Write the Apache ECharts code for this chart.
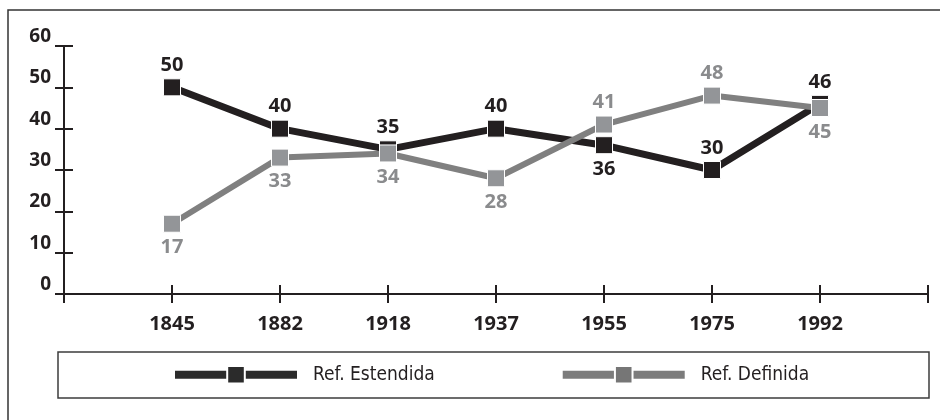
<!DOCTYPE html>
<html>
<head>
<meta charset="utf-8">
<script src="https://cdn.jsdelivr.net/npm/echarts@6/dist/echarts.min.js"></script>
<style>
  html, body { margin: 0; padding: 0; background: #fff; }
  #chart { width: 940px; height: 420px; }
</style>
</head>
<body>
<div id="chart"></div>
<script>
// Survey years and the two reference series
const years = ['1845', '1882', '1918', '1937', '1955', '1975', '1992'];
const refEstendida = [50, 40, 35, 40, 36, 30, 46];
const refDefinida = [17, 33, 34, 28, 41, 48, 45];
const yTicks = [0, 10, 20, 30, 40, 50, 60];

// Label side for each point: 'top' or 'bottom'
const posEstendida = ['top', 'top', 'top', 'top', 'bottom', 'top', 'top'];
const posDefinida = ['bottom', 'bottom', 'bottom', 'bottom', 'top', 'top', 'bottom'];

const INK = '#231f20';
const GREY_LINE = '#808080';
const GREY_MARK = '#939598';
const GREY_TEXT = '#8a8b8d';
const NUM_FONT = '"Open Sans", "DejaVu Sans", sans-serif';

// One empty slot on each side keeps the years off the axis ends
const axisCats = [''].concat(years, ['']);

function padded(values, positions, color) {
  const out = [null];
  values.forEach((v, i) => {
    out.push({
      value: v,
      label: {
        position: positions[i],
        color: color,
        distance: positions[i] === 'top' ? 3 : 5
      }
    });
  });
  out.push(null);
  return out;
}

const chart = echarts.init(document.getElementById('chart'), null, { renderer: 'canvas' });

const baseX = {
  type: 'category',
  data: axisCats,
  boundaryGap: false,
  position: 'bottom',
  axisLine: { show: true, lineStyle: { color: INK, width: 2 } },
  splitLine: { show: false }
};
const baseY = {
  type: 'value',
  min: yTicks[0],
  max: yTicks[yTicks.length - 1],
  interval: 10,
  position: 'left',
  axisLine: { show: true, lineStyle: { color: INK, width: 2 } },
  splitLine: { show: false }
};

chart.setOption({
  animation: false,
  backgroundColor: '#fff',
  grid: { left: 64, right: 12, top: 46, bottom: 126, containLabel: false },
  xAxis: [
    Object.assign({}, baseX, {
      axisTick: { show: true, inside: false, length: 9, interval: 0, lineStyle: { color: INK, width: 2 } },
      axisLabel: {
        interval: 0, margin: 20, color: INK,
        fontFamily: NUM_FONT, fontWeight: 'bold', fontSize: 20
      }
    }),
    Object.assign({}, baseX, {
      axisLine: { show: false },
      axisTick: { show: true, inside: true, length: 9, interval: 0, lineStyle: { color: INK, width: 2 } },
      axisLabel: { show: false }
    })
  ],
  yAxis: [
    Object.assign({}, baseY, {
      axisTick: { show: true, inside: false, length: 9, lineStyle: { color: INK, width: 2 } },
      axisLabel: {
        margin: 13, color: INK, verticalAlign: 'bottom', padding: [0, 0, 0, 0],
        fontFamily: NUM_FONT, fontWeight: 'bold', fontSize: 19
      }
    }),
    Object.assign({}, baseY, {
      axisLine: { show: false },
      axisTick: { show: true, inside: true, length: 9, lineStyle: { color: INK, width: 2 } },
      axisLabel: { show: false }
    })
  ],
  legend: {
    left: 171,
    top: 365,
    padding: 0,
    itemWidth: 122,
    itemHeight: 22,
    itemGap: 124,
    textStyle: {
      fontFamily: '"DejaVu Sans Condensed", "Liberation Sans Narrow", sans-serif',
      fontSize: 19,
      color: INK,
      padding: [0, 0, 0, 11]
    },
    data: [
      { name: 'Ref. Estendida', itemStyle: { color: '#2b2b2b' }, lineStyle: { color: '#2b2b2b', width: 8 } },
      { name: 'Ref. Definida', itemStyle: { color: '#767676' }, lineStyle: { color: '#7c7c7c', width: 8 } }
    ]
  },
  graphic: [
    {
      type: 'rect',
      silent: true,
      shape: { x: 8, y: 10, width: 960, height: 440 },
      style: { fill: 'none', stroke: '#333', lineWidth: 1.5 }
    },
    {
      type: 'rect',
      silent: true,
      shape: { x: 58, y: 352, width: 871, height: 46 },
      style: { fill: 'none', stroke: '#3c3c3c', lineWidth: 1.5 }
    }
  ],
  series: [
    {
      name: 'Ref. Estendida',
      type: 'line',
      xAxisIndex: 0,
      yAxisIndex: 0,
      data: padded(refEstendida, posEstendida, INK),
      symbol: 'rect',
      symbolSize: 17,
      lineStyle: { color: INK, width: 7 },
      itemStyle: { color: INK, borderColor: '#ffffff', borderWidth: 1 },
      label: {
        show: true,
        fontFamily: NUM_FONT, fontWeight: 'bold', fontSize: 20
      },
      z: 2
    },
    {
      name: 'Ref. Definida',
      type: 'line',
      xAxisIndex: 0,
      yAxisIndex: 0,
      data: padded(refDefinida, posDefinida, GREY_TEXT),
      symbol: 'rect',
      symbolSize: 17,
      lineStyle: { color: GREY_LINE, width: 6 },
      itemStyle: { color: GREY_MARK, borderColor: '#ffffff', borderWidth: 1 },
      label: {
        show: true,
        fontFamily: NUM_FONT, fontWeight: 'bold', fontSize: 20
      },
      z: 3
    }
  ]
});
</script>
</body>
</html>
